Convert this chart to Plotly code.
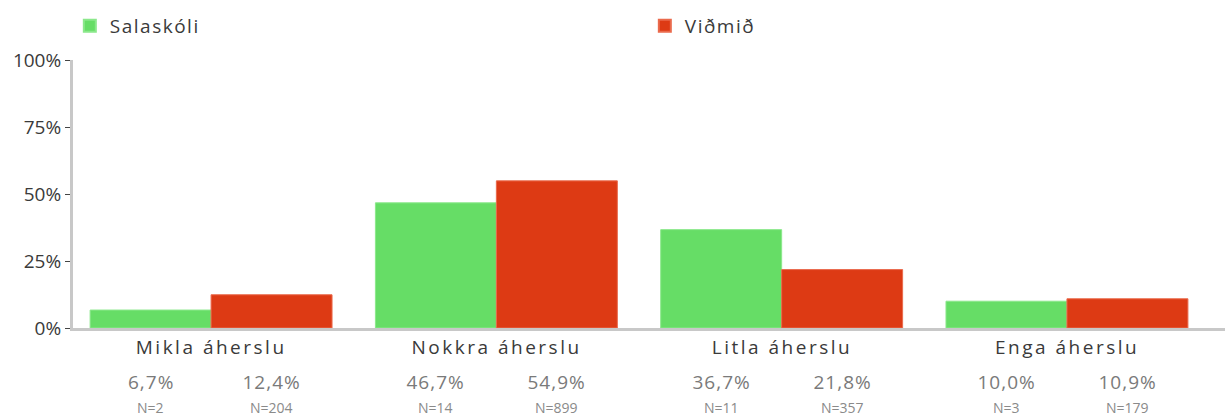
import plotly.graph_objects as go

# Survey answers: share of respondents per emphasis level
categories = ["Mikla áherslu", "Nokkra áherslu", "Litla áherslu", "Enga áherslu"]
salaskoli_pct = [6.7, 46.7, 36.7, 10.0]
vidmid_pct = [12.4, 54.9, 21.8, 10.9]
salaskoli_n = [2, 14, 11, 3]
vidmid_n = [204, 899, 357, 179]
y_ticks = [0, 25, 50, 75, 100]
y_tick_labels = ["0%", "25%", "50%", "75%", "100%"]

GREEN = "#66dd66"
RED = "#dd3a14"
FONT = "'Open Sans', Lato, sans-serif"

x_pos = list(range(len(categories)))

fig = go.Figure()
fig.add_trace(go.Bar(
    name="Salaskóli", x=x_pos, y=salaskoli_pct,
    marker=dict(color=GREEN, line=dict(color="#8be88b", width=1)),
    hoverinfo="skip",
))
fig.add_trace(go.Bar(
    name="Viðmið", x=x_pos, y=vidmid_pct,
    marker=dict(color=RED, line=dict(color="#ea6a4c", width=1)),
    hoverinfo="skip",
))

def fmt(v):
    return f"{v:.1f}".replace(".", ",") + "%"

half = 0.212
annotations = []
for i, cat in enumerate(categories):
    annotations.append(dict(
        x=i, y=-0.071, xref="x", yref="paper", text=cat, showarrow=False,
        xanchor="center", yanchor="middle",
        font=dict(family=FONT, size=19, color="#3a3a3a"),
    ))
    for dx, pct, n in ((-half, salaskoli_pct[i], salaskoli_n[i]),
                       (half, vidmid_pct[i], vidmid_n[i])):
        annotations.append(dict(
            x=i + dx, y=-0.203, xref="x", yref="paper", text=fmt(pct),
            showarrow=False, xanchor="center", yanchor="middle",
            font=dict(family=FONT, size=19, color="#7a7a7a"),
        ))
        annotations.append(dict(
            x=i + dx, y=-0.298, xref="x", yref="paper", text=f"N={n}",
            showarrow=False, xanchor="center", yanchor="middle",
            font=dict(family=FONT, size=14, color="#8a8a8a"),
        ))

fig.update_layout(
    width=1225, height=418,
    margin=dict(l=73, r=0, t=60, b=90, autoexpand=False),
    paper_bgcolor="white", plot_bgcolor="white",
    barmode="group", bargap=0.152, bargroupgap=0,
    font=dict(family=FONT, color="#3a3a3a"),
    showlegend=True,
    legend=dict(
        orientation="h", xref="container", yref="container",
        x=0.057, xanchor="left", y=0.938, yanchor="middle",
        entrywidth=530, entrywidthmode="pixels",
        font=dict(family=FONT, size=19, color="#3a3a3a"),
        itemsizing="constant", bgcolor="rgba(0,0,0,0)",
    ),
    xaxis=dict(
        range=[-0.484, 3.554], showticklabels=False, showgrid=False,
        zeroline=False, showline=True, linecolor="#c8c8c8", linewidth=3,
        ticks="",
    ),
    yaxis=dict(
        range=[0, 100], tickvals=y_ticks, ticktext=y_tick_labels,
        showgrid=False, zeroline=False, showline=True, linecolor="#c8c8c8",
        linewidth=3, ticks="outside", ticklen=5, tickwidth=1,
        tickcolor="#444444",
        tickfont=dict(family=FONT, size=19, color="#3a3a3a"),
    ),
    annotations=annotations,
)

# Wide tracking on the category and legend labels
letter_spacing_js = """
var gd = document.getElementById('{plot_id}');
gd.querySelectorAll('.annotation-text, .legendtext').forEach(function(t) {
    var s = t.textContent || '';
    if (s.indexOf('áherslu') >= 0) { t.style.letterSpacing = '2.5px'; }
    else if (s.indexOf('N=') !== 0 && s.indexOf('%') < 0) { t.style.letterSpacing = '1.5px'; }
    else if (s.indexOf('%') >= 0) { t.style.letterSpacing = '1px'; }
});
"""

fig.write_html("out.html", post_script=letter_spacing_js)
